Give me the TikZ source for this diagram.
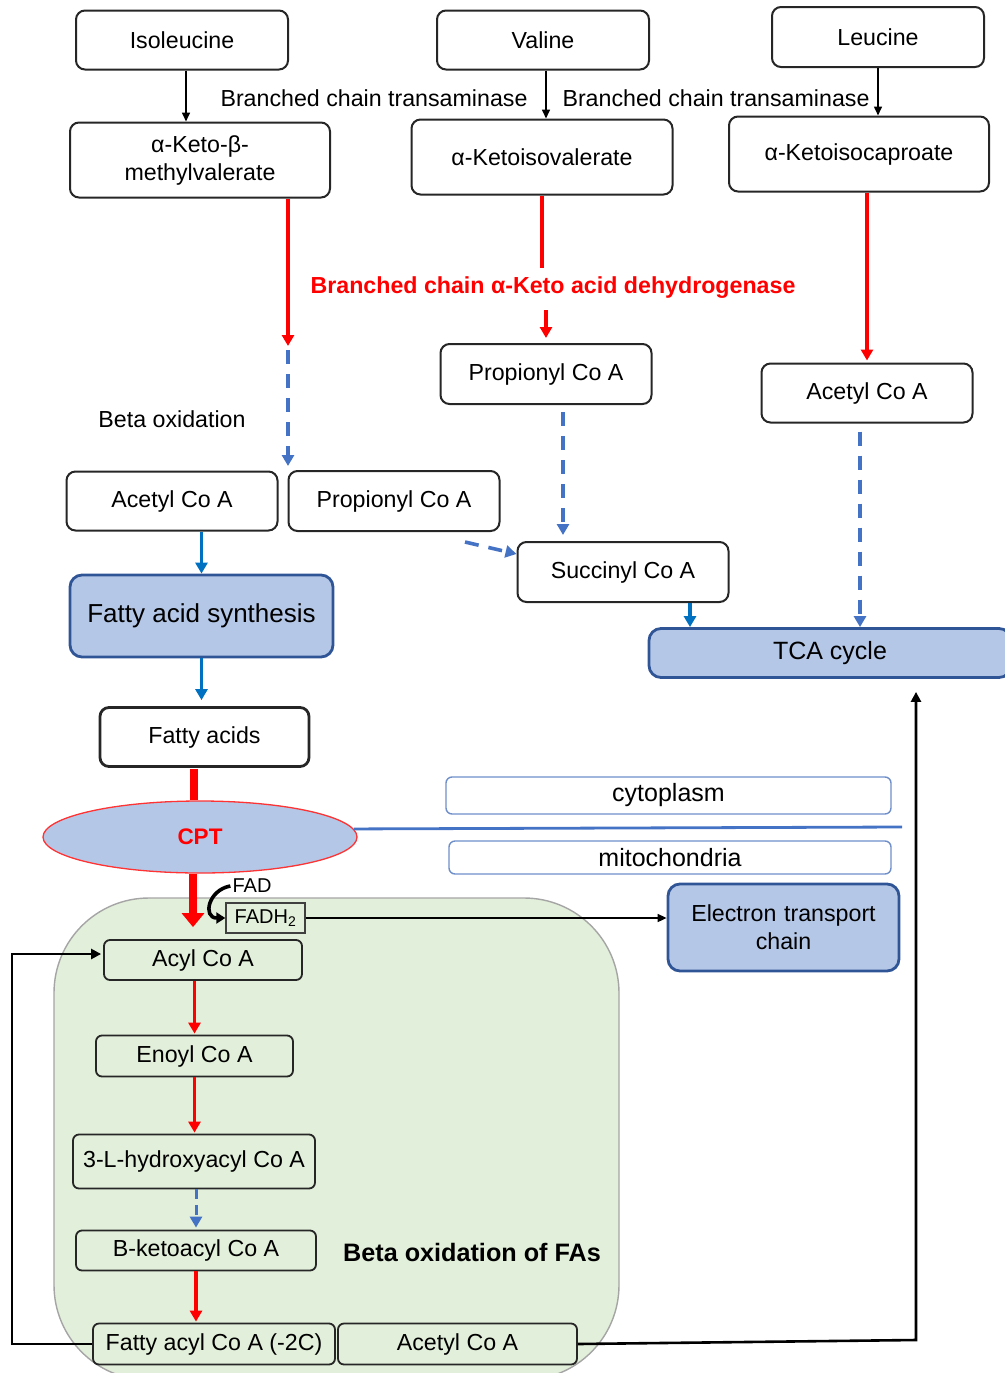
\documentclass[tikz,border=0pt]{standalone}
\usepackage{fontspec}
\setmainfont{Liberation Sans}
\usetikzlibrary{
    arrows.meta,     % For arrow tips
    shapes.geometric,% For the CPT ellipse
    calc,            % For shifted anchors
    positioning      % For relative placement
}
\definecolor{procblue}{HTML}{B4C7E7}
\definecolor{edgeblue}{HTML}{2F5597}
\definecolor{arrowblue}{HTML}{0070C0}
\definecolor{dashblue}{HTML}{4472C4}
\definecolor{mitogreen}{HTML}{E2EFDA}
\definecolor{mitoedge}{HTML}{A5A5A5}
\definecolor{zoneblue}{HTML}{6F8FCB}

\begin{document}
\begin{tikzpicture}[
    x=1pt, y=-1pt, % one unit = one pixel of the layout, y downwards
    font=\fontsize{23.2}{28}\selectfont,
    % white metabolite boxes
    compbox/.style={draw=black!85, line width=2pt, rounded corners=9pt, fill=white, align=center, inner sep=0pt},
    % blue process boxes
    procbox/.style={draw=edgeblue, line width=2.8pt, rounded corners=12pt, fill=procblue, align=center, inner sep=0pt},
    % small boxes inside the mitochondrion
    mitobox/.style={draw=black!85, line width=1.8pt, rounded corners=6pt, fill=mitogreen, inner sep=0pt},
    % cytoplasm / mitochondria tags
    zonebox/.style={draw=zoneblue, line width=1.4pt, rounded corners=6pt, fill=white, inner sep=0pt, font=\fontsize{25}{28}\selectfont},
    % arrows
    thinarrow/.style={black, line width=1.6pt, -{Triangle[width=8pt,length=9pt]}},
    redline/.style={red, line width=3.2pt},
    redarrow/.style={redline, -{Triangle[width=12pt,length=11pt]}},
    bluearrow/.style={arrowblue, line width=3.4pt, -{Triangle[width=12pt,length=11pt]}},
    bluedash/.style={dashblue, line width=3.6pt, dash pattern=on 14pt off 10pt, -{Triangle[width=12pt,length=11pt]}},
    loopline/.style={black, line width=2.6pt, -{Triangle[width=10pt,length=10pt]}}
]
    \useasboundingbox (0,0) rectangle (1004,1373);

    % Mitochondrial matrix (behind everything)
    \draw[fill=mitogreen, draw=mitoedge, line width=1.4pt, rounded corners=95pt] (54,898) rectangle (619,1380);

    % Amino acids and their keto acids
    \node[compbox, minimum width=212pt, minimum height=59pt] (iso) at (182,40) {Isoleucine};
    \node[compbox, minimum width=212pt, minimum height=59pt] (val) at (543,40) {Valine};
    \node[compbox, minimum width=212pt, minimum height=60pt] (leu) at (878,37) {Leucine};
    \node[compbox, minimum width=260pt, minimum height=75pt] (kmv) at (200,160) {α-Keto-β-\\methylvalerate};
    \node[compbox, minimum width=261pt, minimum height=75pt] (kiv) at (542,157) {α-Ketoisovalerate};
    \node[compbox, minimum width=260pt, minimum height=75pt] (kic) at (859,154) {α-Ketoisocaproate};

    \node (bct1) at (374,98) {Branched chain transaminase};
    \node (bct2) at (716,98) {Branched chain transaminase};
    \node[red, font=\bfseries\fontsize{23.2}{28}\selectfont] (bckd) at (553,288) {Branched chain α-Keto acid dehydrogenase};
    \node (betaox) at (172,419) {Beta oxidation};

    % CoA products
    \node[compbox, minimum width=211pt, minimum height=60pt] (propM) at (546,374) {Propionyl Co A};
    \node[compbox, minimum width=211pt, minimum height=59pt] (acetR) at (867,393) {Acetyl Co A};
    \node[compbox, minimum width=211pt, minimum height=59pt] (acetL) at (172,501) {Acetyl Co A};
    \node[compbox, minimum width=211pt, minimum height=60pt] (propL) at (394,501) {Propionyl Co A};
    \node[compbox, minimum width=211pt, minimum height=60pt] (succ) at (623,572) {Succinyl Co A};
    \node[procbox, minimum width=362pt, minimum height=49pt, font=\fontsize{25}{28}\selectfont] (tca) at (830,653) {TCA cycle};
    \node[procbox, minimum width=263pt, minimum height=82pt, font=\fontsize{26}{30}\selectfont] (fas) at (201.5,616) {Fatty acid synthesis};
    \node[compbox, line width=2.8pt, minimum width=209pt, minimum height=59pt] (facid) at (204.5,737) {Fatty acids};

    % Membrane and carnitine shuttle
    \node[ellipse, draw=red!80, line width=1.3pt, fill=procblue, minimum width=314pt, minimum height=72pt,
          text=red, font=\bfseries\fontsize{22.5}{26}\selectfont] (cpt) at (200,837) {CPT};
    \coordinate (memEnd) at (902,827);
    \draw[dashblue, line width=2.8pt] (cpt.3) -- (memEnd);
    \node[zonebox, minimum width=445pt, minimum height=37pt] (cyto) at (668.5,795.5) {cytoplasm};
    \node[zonebox, minimum width=442pt, minimum height=33pt] (mito) at (670,857.5) {mitochondria};
    \node[procbox, minimum width=231pt, minimum height=87pt, text width=220pt] (etc) at (783.5,927.5) {Electron transport\\chain};

    % Beta oxidation cycle
    \node[font=\fontsize{20}{24}\selectfont, inner sep=2pt] (fad) at (252,886) {FAD};
    \node[draw=black!75, line width=1.4pt, fill=mitogreen, inner sep=0pt, minimum width=79pt, minimum height=30pt,
          font=\fontsize{20}{24}\selectfont] (fadh) at (265.5,918) {FADH\textsubscript{2}};
    \node[mitobox, minimum width=198pt, minimum height=40pt] (acyl) at (203,960) {Acyl Co A};
    \node[mitobox, minimum width=197pt, minimum height=41pt] (enoyl) at (194.5,1056) {Enoyl Co A};
    \node[mitobox, minimum width=242pt, minimum height=54pt] (hydroxy) at (194,1161.5) {3-L-hydroxyacyl Co A};
    \node[mitobox, minimum width=240pt, minimum height=40pt] (keto) at (196,1250.5) {B-ketoacyl Co A};
    \node[mitobox, minimum width=242pt, minimum height=41pt] (fatacyl) at (214,1344) {Fatty acyl Co A (-2C)};
    \node[mitobox, minimum width=239pt, minimum height=41pt] (acetB) at (457.5,1344) {Acetyl Co A};
    \node[font=\bfseries\fontsize{25.2}{30}\selectfont] (betaoxFA) at (472,1252) {Beta oxidation of FAs};

    % Transaminase steps
    \draw[thinarrow] ([xshift=4pt]iso.south) -- ([xshift=4pt]iso.south |- kmv.north);
    \draw[thinarrow] ([xshift=3pt]val.south) -- ([xshift=3pt]val.south |- kiv.north);
    \draw[thinarrow] (leu.south) -- (leu.south |- kic.north);

    % Dehydrogenase steps
    \coordinate (boJoin) at (288,346);
    \draw[redarrow] ([xshift=88pt]kmv.south) -- (boJoin);
    \draw[bluedash, shorten <=4pt, shorten >=4pt] (boJoin) -- (boJoin |- propL.north);
    \draw[redline] (kiv.south) -- ([yshift=6pt]kiv.south |- bckd.north);
    \draw[redarrow, shorten <=8pt, shorten >=5pt] (propM.north |- bckd.south) -- (propM.north);
    \draw[redarrow, shorten >=2pt] (kic.south -| acetR.north) -- (acetR.north);

    % Towards the TCA cycle
    \draw[bluedash, shorten <=7pt, shorten >=6pt] ([xshift=17pt]propM.south) -- ([xshift=17pt]propM.south |- succ.north);
    \draw[bluedash] ([xshift=71pt,yshift=-10pt]propL.south) -- ([yshift=18pt]succ.west);
    \draw[bluedash, shorten <=8pt] ([xshift=-7pt]acetR.south) -- ([xshift=-7pt]acetR.south |- tca.north);
    \draw[bluearrow] ([xshift=67pt]succ.south) -- ([xshift=67pt]succ.south |- tca.north);

    % Fatty acid synthesis and entry into the mitochondrion
    \draw[bluearrow] (fas.north |- acetL.south) -- (fas.north);
    \draw[bluearrow, shorten >=6pt] (fas.south) -- (fas.south |- facid.north);
    \draw[red, line width=8pt, shorten <=1pt] ([xshift=-11pt]facid.south) -- ([xshift=-11pt]facid.south |- cpt.north);
    \draw[red, line width=8pt, -{Triangle[width=22pt,length=14pt]}, shorten >=12pt] ([xshift=-7pt]cpt.south) -- ([xshift=-7pt]cpt.south |- acyl.north);
    \draw[black, line width=3.6pt, -{Triangle[width=11pt,length=9pt]}] (fad.west) to[out=190, in=180, looseness=1.8] (fadh.west);
    \draw[thinarrow] (fadh.east) -- (fadh.east -| etc.west);

    \draw[redarrow, shorten >=1pt] (enoyl.north |- acyl.south) -- (enoyl.north);
    \draw[redarrow, shorten >=1pt] (enoyl.south) -- (enoyl.south |- hydroxy.north);
    \draw[bluedash, dash pattern=on 10pt off 6pt, line width=3pt, shorten >=2pt] (keto.north |- hydroxy.south) -- (keto.north);
    \draw[redarrow, shorten >=1pt] (keto.south) -- (keto.south |- fatacyl.north);

    % Recycling loops
    \coordinate (loopL) at (12,1344);
    \coordinate (loopR) at (916,1340);
    \draw[loopline, shorten >=2pt] (fatacyl.west) -- (loopL) |- ([yshift=6pt]acyl.west);
    \draw[loopline, shorten >=13pt] (acetB.east) -- (loopR) -- (loopR |- tca.south);

\end{tikzpicture}
\end{document}
